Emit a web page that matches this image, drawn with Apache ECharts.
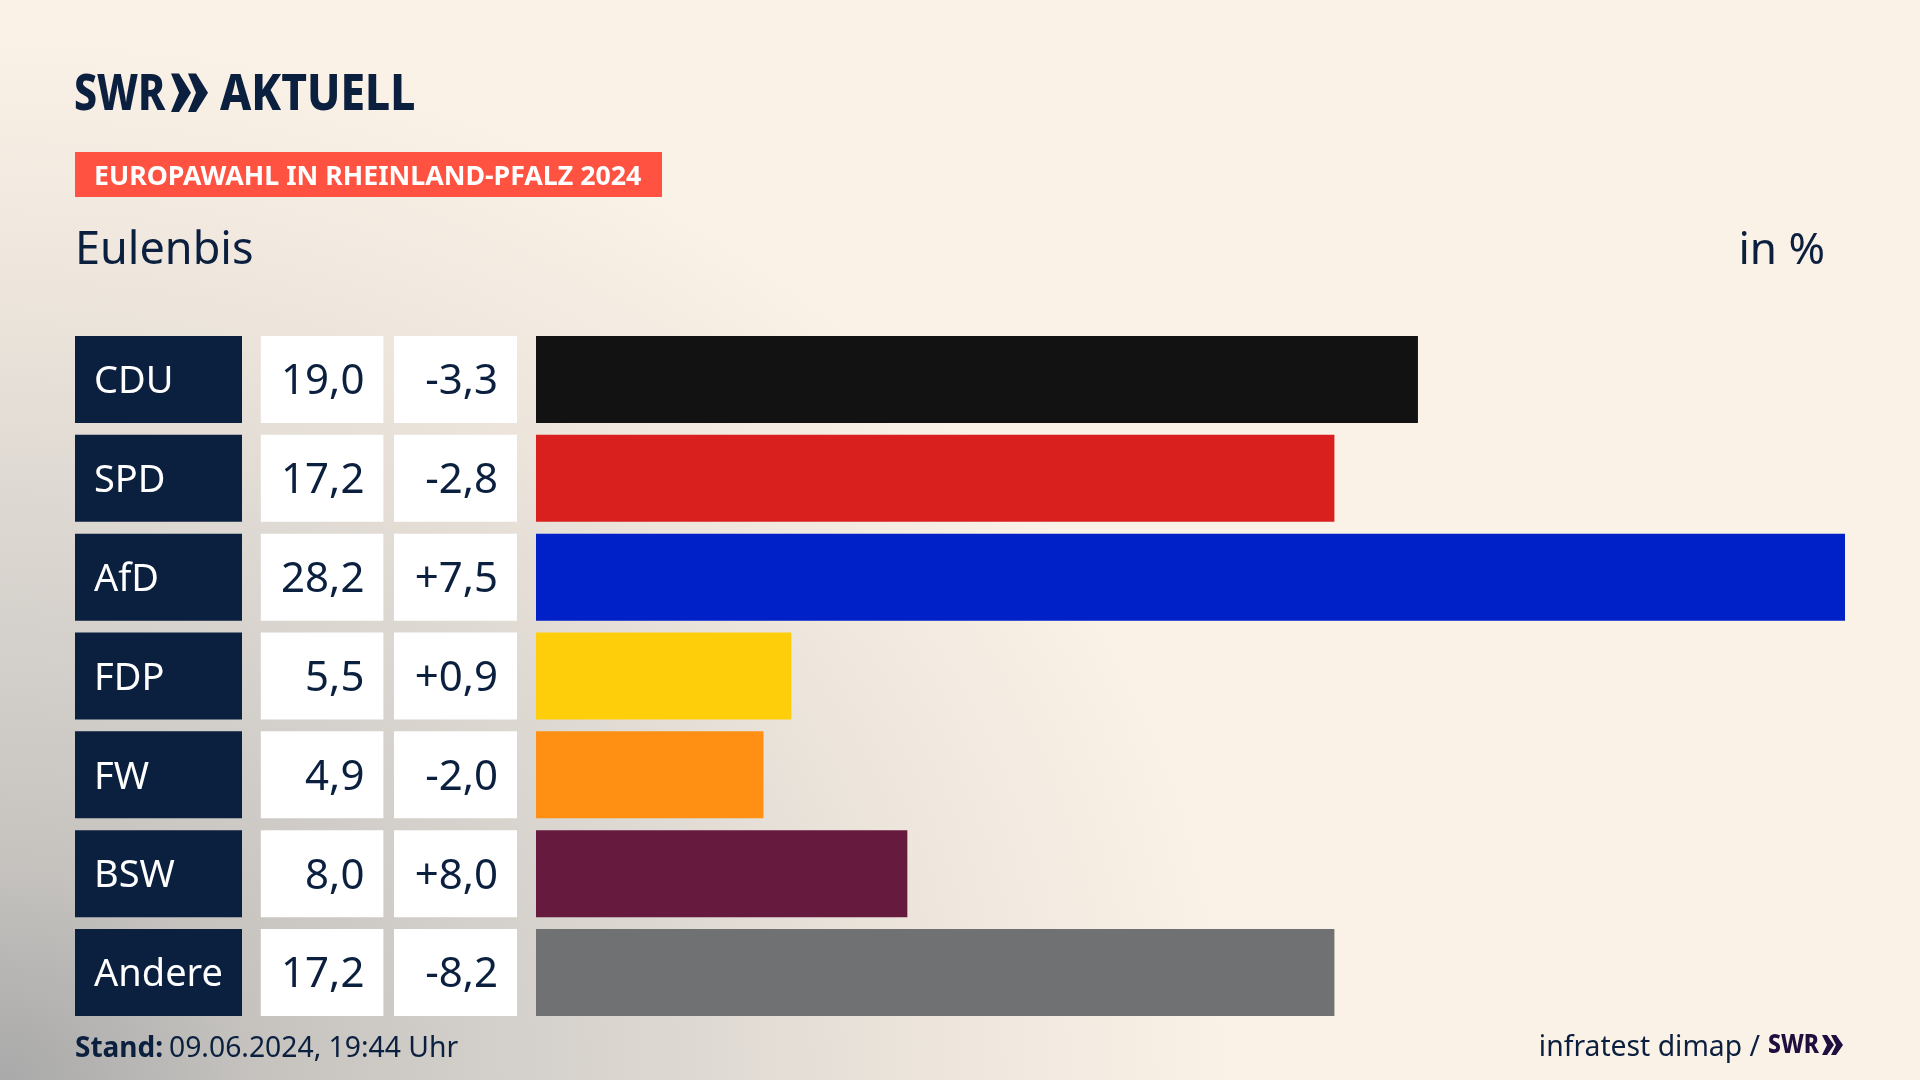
<!DOCTYPE html>
<html><head><meta charset="utf-8">
<style>html,body{margin:0;padding:0;background:#FAF1E7}
#c{width:1920px;height:1080px;background:radial-gradient(1242px 1050px at 0 1080px,#A9A9A9 0%,#C7C4C0 22%,#DDD8D2 55%,#EFE7DD 78%,#FAF1E7 100%)}</style>
<script src="https://cdn.jsdelivr.net/npm/echarts@6/dist/echarts.min.js"></script>
</head><body><div id="c"></div>
<script>
const parties = ['CDU','SPD','AfD','FDP','FW','BSW','Andere'];
const shares  = [19.0,17.2,28.2,5.5,4.9,8.0,17.2];
const changes = [-3.3,-2.8,7.5,0.9,-2.0,8.0,-8.2];
const colors  = ['#121212','#D9201E','#0021C8','#FFCE0A','#FF9014','#661A3E','#707173'];
const FONT = '"Noto Sans"';
const NAVY = '#0B1F3F';
const fmtShare = v => v.toFixed(1).replace('.',',');
const fmtChange = v => (v>0?'+':'')+v.toFixed(1).replace('.',',');

function cellAxis(labels, offset, width, bg, color, align, size){
  return {
    type:'category', inverse:true, position:'left', offset, data:labels, show:true,
    axisLine:{show:false}, axisTick:{show:false}, splitLine:{show:false},
    axisLabel:{ show:true, interval:0, margin:0, align:'right', verticalAlign:'middle', hideOverlap:false,
      formatter:v=>'{a|'+v+'}',
      rich:{a:{ width:width-19, height:81, backgroundColor:bg, color, align,
        padding: align==='left'?[6,0,0,19]:[6,19,0,0], fontFamily:FONT, fontSize:size }} }
  };
}
function chev(x,y0,y1,w,t,n,fill){
  const m=(y0+y1)/2;
  return {type:'polygon',silent:true,shape:{points:[[x,y0],[x+t,y0],[x+w,m],[x+t,y1],[x,y1],[x+n,m]]},style:{fill}};
}
function txt(x,y,text,size,weight,fill,align,scaleX){
  return {type:'text',x,y,scaleX:scaleX||1,silent:true,style:{text,x:0,y:0,fontFamily:FONT,fontSize:size,fontWeight:weight,fill,align:align||'left',verticalAlign:'middle'}};
}
const chart = echarts.init(document.getElementById('c'),null,{renderer:'canvas',width:1920,height:1080});
chart.setOption({
  animation:false,
  backgroundColor:'transparent',
  grid:{left:536,right:75,top:330.1,height:691.8,containLabel:false},
  xAxis:{type:'value',min:0,max:28.2,show:false},
  yAxis:[
    cellAxis(parties,294,167,NAVY,'#FFFFFF','left',38),
    cellAxis(shares.map(fmtShare),152.6,122.6,'#FFFFFF',NAVY,'right',42),
    cellAxis(changes.map(fmtChange),19,123,'#FFFFFF',NAVY,'right',42)
  ],
  series:[{type:'bar',yAxisIndex:0,barWidth:87,silent:true,
    data:shares.map((v,i)=>({value:v,itemStyle:{color:colors[i]}}))}],
  graphic:[
    txt(74,96,'SWR',50,800,NAVY,'left',0.82),
    chev(171,73.5,112,20,8,8,NAVY), chev(188,73.5,112,20,8,8,NAVY),
    txt(220,96,'AKTUELL',50,800,NAVY,'left',0.885),
    {type:'rect',silent:true,shape:{x:75,y:152,width:587,height:45},style:{fill:'#FF5240'}},
    txt(94,177,'EUROPAWAHL IN RHEINLAND-PFALZ 2024',27,700,'#FFFFFF','left',0.99),
    txt(75,251,'Eulenbis',45,400,NAVY),
    txt(1825,251,'in %',44,400,NAVY,'right'),
    txt(75,1049,'Stand:',28,700,NAVY),
    txt(169,1049,'09.06.2024, 19:44 Uhr',28.3,400,NAVY),
    txt(1760,1048,'infratest dimap /',28.3,400,NAVY,'right'),
    txt(1768,1046,'SWR',26,800,'#1F0F3F','left',0.88),
    chev(1822,1035,1055,12,5,5,'#1F0F3F'), chev(1831,1035,1055,12,5,5,'#1F0F3F')
  ]
});
</script></body></html>
